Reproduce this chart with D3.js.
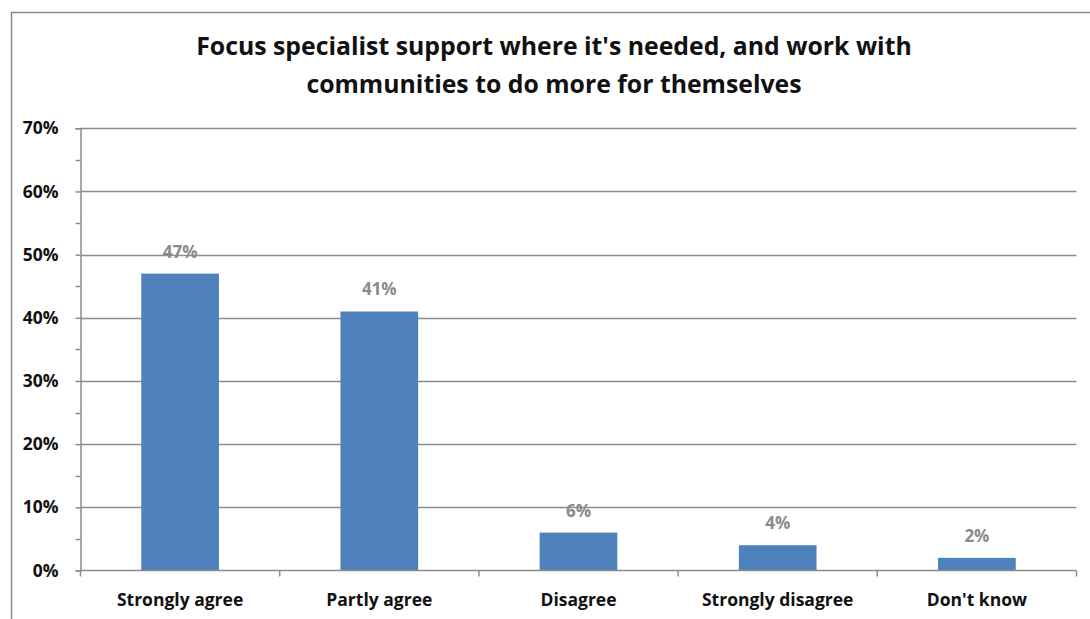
<!DOCTYPE html>
<html>
<head>
<meta charset="utf-8">
<script src="https://cdn.jsdelivr.net/npm/d3@7"></script>
<style>
  html, body { margin: 0; padding: 0; background: #fff; }
  svg { display: block; }
  text { font-family: "Open Sans", Lato, sans-serif; font-weight: bold; }
</style>
</head>
<body>
<svg id="chart" width="1090" height="619"></svg>
<script>
// Survey responses (percent of respondents)
const categories = ["Strongly agree", "Partly agree", "Disagree", "Strongly disagree", "Don't know"];
const values = [47, 41, 6, 4, 2];
const yTicks = [0, 10, 20, 30, 40, 50, 60, 70];
const yMinorTicks = [5, 15, 25, 35, 45, 55, 65];
const titleLines = ["Focus specialist support where it's needed, and work with",
                    "communities to do more for themselves"];

const svg = d3.select("#chart");
const W = 1090, H = 619;
const margin = { left: 80.5, right: 1076.5, top: 128.3, bottom: 570.5 };

// Outer chart frame (top and left edges visible)
svg.append("path")
  .attr("d", `M11.5,${H} V12.5 H${W}`)
  .attr("fill", "none")
  .attr("stroke", "#8a8a8a")
  .attr("stroke-width", 1.5);

// Title
const title = svg.append("text")
  .attr("text-anchor", "middle")
  .attr("font-size", 24.8)
  .attr("fill", "#111");
titleLines.forEach((line, i) => {
  title.append("tspan")
    .attr("x", 554)
    .attr("y", 55 + i * 38)
    .text(line);
});

const x = d3.scaleBand()
  .domain(categories)
  .range([margin.left, margin.right])
  .paddingInner(0.61)
  .paddingOuter(0.305);

const y = d3.scaleLinear()
  .domain([0, 70])
  .range([margin.bottom, margin.top]);

// Horizontal gridlines
svg.append("g")
  .selectAll("line")
  .data(yTicks.filter(d => d > 0))
  .join("line")
  .attr("x1", margin.left)
  .attr("x2", margin.right)
  .attr("y1", d => Math.round(y(d)) + 0.5)
  .attr("y2", d => Math.round(y(d)) + 0.5)
  .attr("stroke", "#8c8c8c")
  .attr("stroke-width", 1.5);

// Y axis with major ticks and labels
const yAxis = svg.append("g")
  .attr("transform", `translate(${margin.left},0)`)
  .call(d3.axisLeft(y)
    .tickValues(yTicks)
    .tickSize(5)
    .tickPadding(17)
    .tickFormat(d => d + "%"));
yAxis.select(".domain").attr("stroke", "#8c8c8c").attr("stroke-width", 1.5);
yAxis.selectAll(".tick line").attr("stroke", "#8c8c8c").attr("stroke-width", 1.5);
yAxis.selectAll(".tick text")
  .attr("font-size", 17.5)
  .attr("font-family", "'Open Sans', sans-serif")
  .attr("font-weight", "bold")
  .attr("fill", "#111");

// Minor ticks on the y axis
svg.append("g")
  .selectAll("line")
  .data(yMinorTicks)
  .join("line")
  .attr("x1", margin.left - 5)
  .attr("x2", margin.left)
  .attr("y1", d => Math.round(y(d)) + 0.5)
  .attr("y2", d => Math.round(y(d)) + 0.5)
  .attr("stroke", "#8c8c8c")
  .attr("stroke-width", 1.5);

// Bars
svg.append("g")
  .selectAll("rect")
  .data(values)
  .join("rect")
  .attr("x", (d, i) => x(categories[i]))
  .attr("width", x.bandwidth())
  .attr("y", d => y(d))
  .attr("height", d => y(0) - y(d))
  .attr("fill", "#4f81bd");

// X axis line with category separators
const step = x.step();
const boundaries = d3.range(categories.length + 1).map(i => margin.left + i * step);
svg.append("line")
  .attr("x1", margin.left)
  .attr("x2", margin.right)
  .attr("y1", y(0))
  .attr("y2", y(0))
  .attr("stroke", "#8c8c8c")
  .attr("stroke-width", 1.5);
svg.append("g")
  .selectAll("line")
  .data(boundaries)
  .join("line")
  .attr("x1", d => d)
  .attr("x2", d => d)
  .attr("y1", y(0))
  .attr("y2", y(0) + 6)
  .attr("stroke", "#8c8c8c")
  .attr("stroke-width", 1.5);

// Category labels
svg.append("g")
  .selectAll("text")
  .data(categories)
  .join("text")
  .attr("x", d => x(d) + x.bandwidth() / 2)
  .attr("y", 606)
  .attr("text-anchor", "middle")
  .attr("font-size", 17.5)
  .attr("fill", "#111")
  .text(d => d);

// Value labels above bars
svg.append("g")
  .selectAll("text")
  .data(values)
  .join("text")
  .attr("x", (d, i) => x(categories[i]) + x.bandwidth() / 2)
  .attr("y", d => y(d) - 16)
  .attr("text-anchor", "middle")
  .attr("font-size", 17)
  .attr("fill", "#8a8a8a")
  .text(d => d + "%");
</script>
</body>
</html>
